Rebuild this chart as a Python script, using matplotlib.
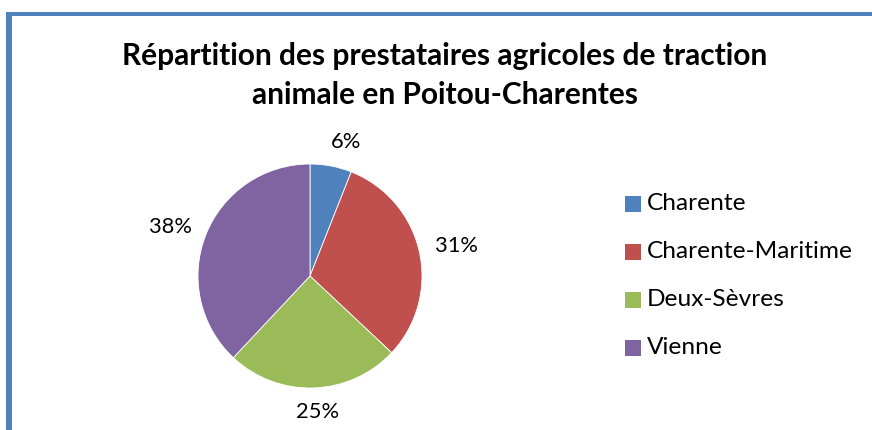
import matplotlib
matplotlib.use("Agg")
import matplotlib.pyplot as plt
from matplotlib.patches import Rectangle

# Data
regions = ["Charente", "Charente-Maritime", "Deux-Sèvres", "Vienne"]
shares = [6, 31, 25, 38]
colors = ["#4F81BD", "#C0504D", "#9BBB59", "#8064A2"]
title_lines = ["Répartition des prestataires agricoles de traction",
               "animale en Poitou-Charentes"]

plt.rcParams['font.family'] = ['Lato', 'DejaVu Sans']

W, H = 872, 430
fig = plt.figure(figsize=(W / 100, H / 100), dpi=100)
fig.patch.set_facecolor("white")
renderer = fig.canvas.get_renderer()


def fx(x):
    return x / W


def fy(y):
    return 1 - y / H


def fit_width(txt, target_px):
    """Scale a text's font size so its rendered width hits target_px."""
    w = txt.get_window_extent(renderer=renderer).width
    txt.set_fontsize(txt.get_fontsize() * target_px / w)


frame_col = "#4F81BD"
# left and top frame edges
fig.patches.append(Rectangle((fx(6), 0), 6 / W, fy(13), transform=fig.transFigure,
                             facecolor=frame_col, edgecolor="none", zorder=5))
fig.patches.append(Rectangle((fx(6), fy(15.5)), 1 - fx(6), 3 / H, transform=fig.transFigure,
                             facecolor=frame_col, edgecolor="none", zorder=5))

# Title
t1 = fig.text(fx(445), fy(65), title_lines[0], ha="center", va="baseline",
              fontsize=17, fontweight="bold", color="black")
fit_width(t1, 645)
t2 = fig.text(fx(445), fy(104), title_lines[1], ha="center", va="baseline",
              fontsize=t1.get_fontsize(), fontweight="bold", color="black")

# Pie
cx, cy, r = 310, 276, 112
ax = fig.add_axes([fx(cx - r), fy(cy + r), 2 * r / W, 2 * r / H])
wedges, _, pct_texts = ax.pie(
    shares, colors=colors, startangle=90, counterclock=False,
    autopct=lambda p: f"{p:.0f}%",
    wedgeprops=dict(edgecolor="white", linewidth=0.6),
    textprops=dict(fontsize=15, color="black"),
)
ax.set_xlim(-1, 1)
ax.set_ylim(-1, 1)
ax.set_aspect("auto")
ax.axis("off")

# data-label positions, in pie-radius units
label_pos = [(0.32, 1.20), (1.31, 0.27), (0.07, -1.21), (-1.25, 0.44)]
for txt, (lx, ly) in zip(pct_texts, label_pos):
    txt.set_position((lx, ly))
    txt.set_ha("center")
    txt.set_va("center")
    txt.set_clip_on(False)
fit_width(pct_texts[1], 43)
for txt in pct_texts:
    txt.set_fontsize(pct_texts[1].get_fontsize())

# Legend
row0, step = 204, 48
legend_texts = []
for i, (name, col) in enumerate(zip(regions, colors)):
    yc = row0 + i * step
    fig.patches.append(Rectangle((fx(625), fy(yc + 8)), 16 / W, 16 / H,
                                 transform=fig.transFigure, facecolor=col,
                                 edgecolor="none"))
    legend_texts.append(fig.text(fx(647), fy(yc), name, ha="left", va="center",
                                 fontsize=15, color="black"))
fit_width(legend_texts[1], 205)
for txt in legend_texts:
    txt.set_fontsize(legend_texts[1].get_fontsize())

fig.savefig("out.png", dpi=100, facecolor="white")
